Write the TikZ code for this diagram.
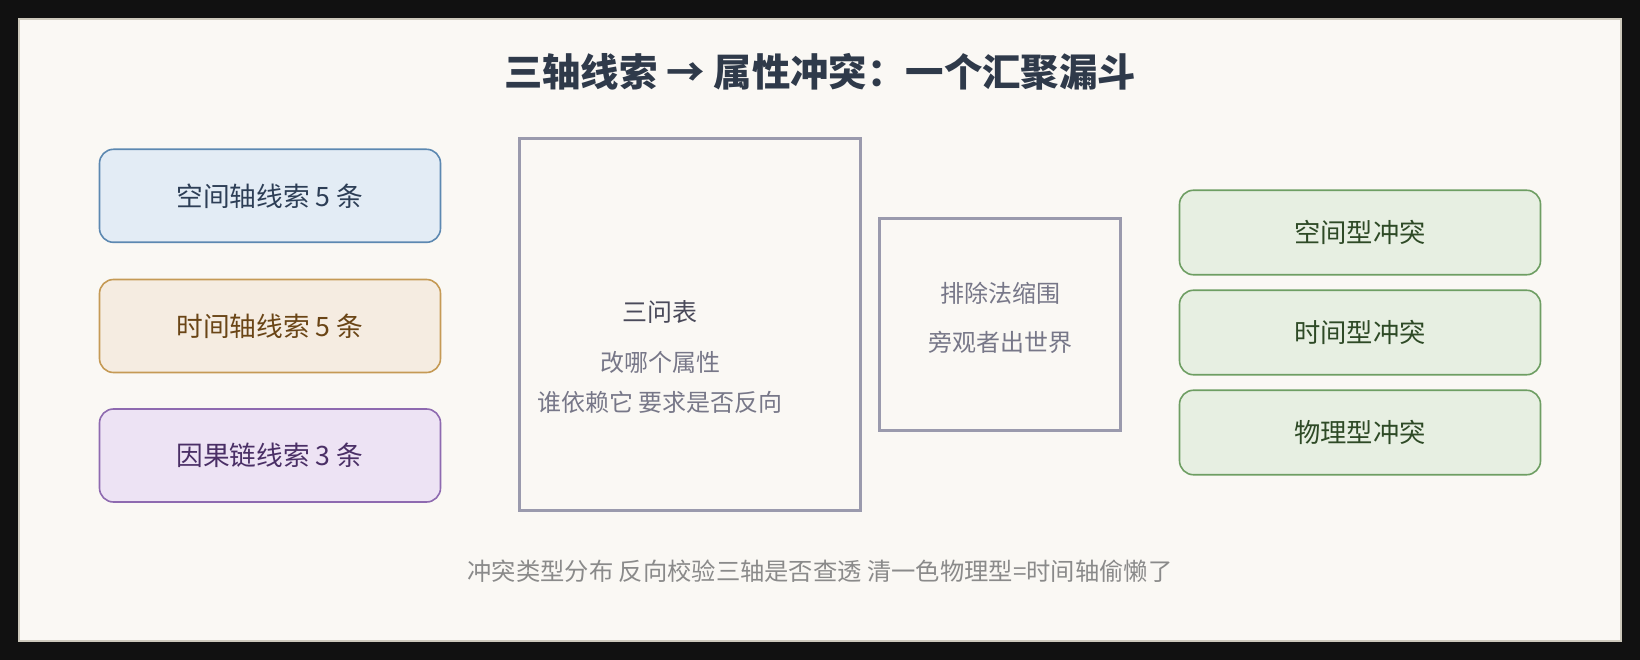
\documentclass[tikz,border=0pt]{standalone}
\usepackage{fontspec}
\setmainfont{Noto Sans CJK SC}
\usetikzlibrary{positioning}
\definecolor{pagebg}{HTML}{111111}
\definecolor{cardbg}{HTML}{FAF8F4}
\definecolor{cardline}{HTML}{CDC9BC}
\definecolor{titlecol}{HTML}{2F3A4A}
\definecolor{bluefill}{HTML}{E3ECF5}
\definecolor{blueline}{HTML}{5C88B1}
\definecolor{bluetext}{HTML}{2D3E56}
\definecolor{orfill}{HTML}{F5ECE1}
\definecolor{orline}{HTML}{C59A55}
\definecolor{ortext}{HTML}{6A4516}
\definecolor{pufill}{HTML}{EDE3F4}
\definecolor{puline}{HTML}{8E6AB0}
\definecolor{putext}{HTML}{4A2F66}
\definecolor{grfill}{HTML}{E7EFE2}
\definecolor{grline}{HTML}{6E9E63}
\definecolor{grtext}{HTML}{2E4A26}
\definecolor{midline}{HTML}{9A9AAD}
\definecolor{midhead}{HTML}{4A4A5A}
\definecolor{midtext}{HTML}{777788}
\definecolor{foottext}{HTML}{8A8A8A}
\tikzset{
  clue/.style={draw, line width=1.6pt, rounded corners=14pt, minimum width=341pt, minimum height=93pt, inner sep=0pt, font=\fontsize{26.7}{30}\selectfont},
  kind/.style={draw=grline, fill=grfill, text=grtext, line width=1.6pt, rounded corners=14pt, minimum width=361pt, minimum height=84.5pt, inner sep=0pt, font=\fontsize{26.3}{30}\selectfont},
  stage/.style={draw=midline, line width=3pt, fill=cardbg, inner sep=0pt},
  midt/.style={text=midtext, inner sep=0pt, font=\fontsize{24}{28}\selectfont},
}
\begin{document}
\begin{tikzpicture}[x=1pt,y=-1pt]
\useasboundingbox (0,0) rectangle (1640,660);
\fill[pagebg] (0,0) rectangle (1640,660);
\node[draw=cardline, fill=cardbg, line width=2pt, minimum width=1602pt, minimum height=622pt, inner sep=0pt] (card) at (820,330) {};
\node[text=titlecol, inner sep=0pt, font=\fontsize{38.4}{42}\selectfont\bfseries] (title) at (820,72) {三轴线索 → 属性冲突：一个汇聚漏斗};

\node[clue, draw=blueline, fill=bluefill, text=bluetext] (space) at (270,195.8) {\raisebox{-2pt}{空间轴线索 5 条}};
\node[clue, draw=orline, fill=orfill, text=ortext] (time) at (270,326) {\raisebox{-2pt}{时间轴线索 5 条}};
\node[clue, draw=puline, fill=pufill, text=putext] (cause) at (270,455.5) {\raisebox{-2pt}{因果链线索 3 条}};

\node[stage, minimum width=341pt, minimum height=371pt] (ask) at (689.8,324.5) {};
\node[text=midhead, inner sep=0pt, font=\fontsize{25}{30}\selectfont] (askhead) at (660,312) {三问表};
\node[midt] (askone) at (660,362) {改哪个属性};
\node[midt] (asktwo) at (660,402) {谁依赖它 要求是否反向};

\node[stage, minimum width=241.5pt, minimum height=211pt] (elim) at (999.8,324.5) {};
\node[midt] (elimone) at (1000,293) {排除法缩围};
\node[midt] (elimtwo) at (1000,342) {旁观者出世界};

\node[kind] (kspace) at (1360,232.5) {空间型冲突};
\node[kind] (ktime) at (1360,332.5) {时间型冲突};
\node[kind] (kphys) at (1360,432.5) {物理型冲突};

\node[text=foottext, inner sep=0pt, font=\fontsize{24.3}{28}\selectfont] (foot) at (820,571) {冲突类型分布 反向校验三轴是否查透 清一色物理型=时间轴偷懒了};
\end{tikzpicture}
\end{document}
